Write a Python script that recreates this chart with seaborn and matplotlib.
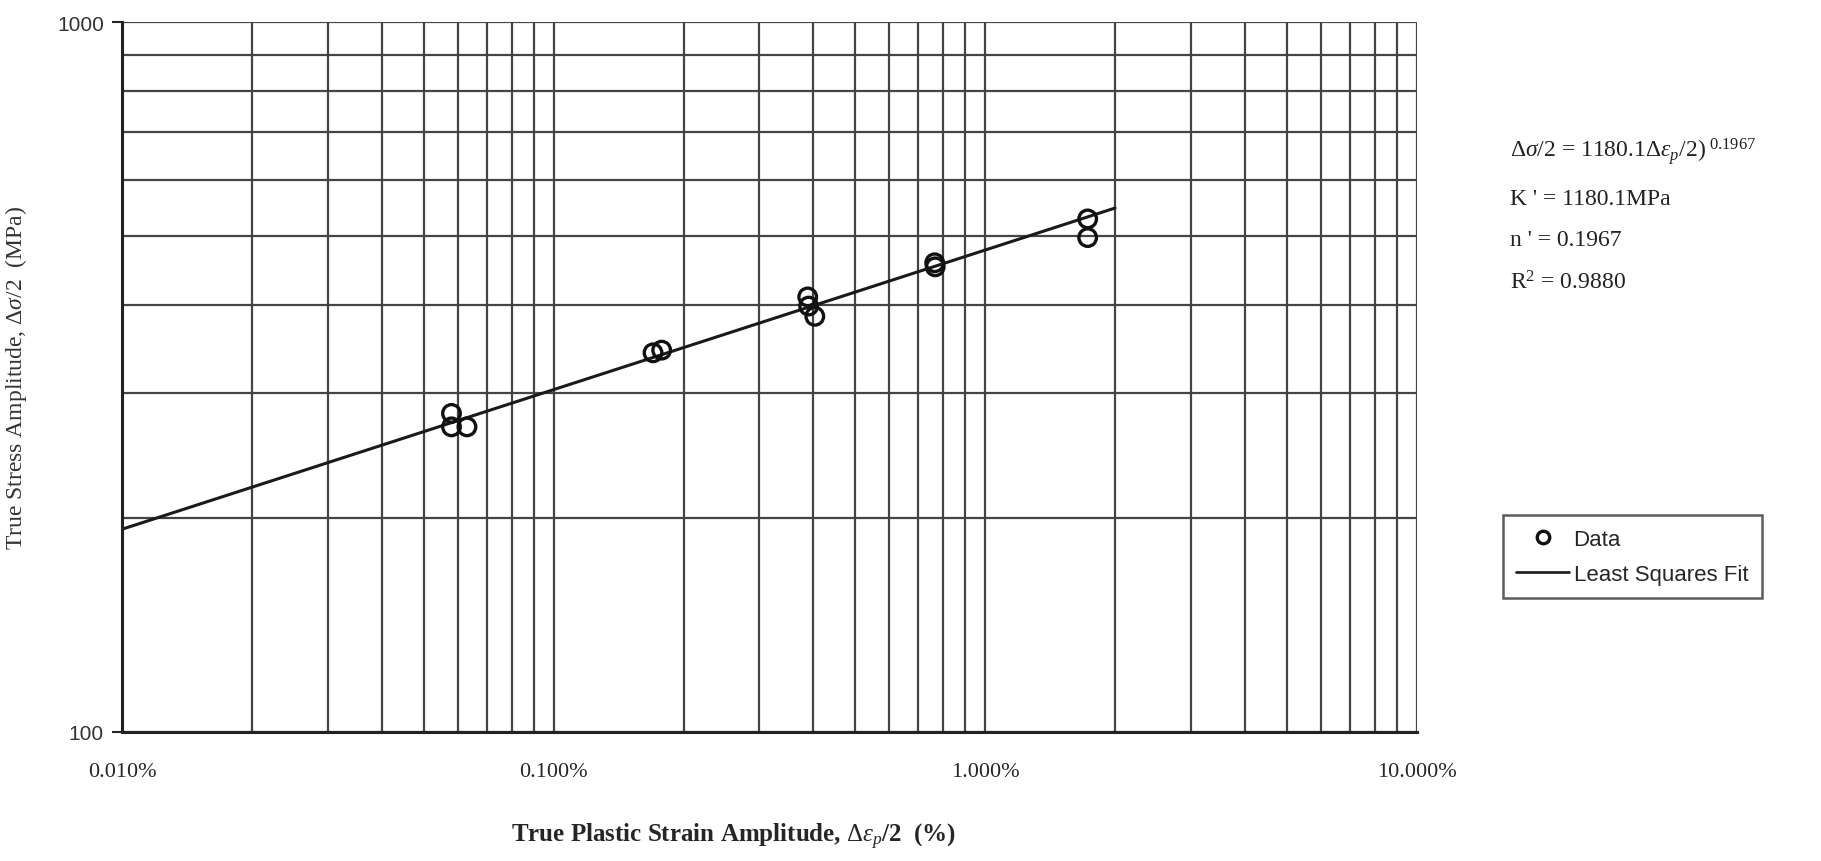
import matplotlib
matplotlib.use("Agg")
import matplotlib.pyplot as plt
from matplotlib.ticker import FixedLocator, FuncFormatter, NullFormatter
from matplotlib.lines import Line2D
import pandas as pd
import seaborn as sns

# data
strain_pct = [0.058, 0.058, 0.063, 0.170, 0.178, 0.388, 0.390, 0.403, 0.764, 0.766, 1.728, 1.728]
stress_mpa = [281, 269, 269, 342, 345, 410, 398, 385, 458, 452, 528, 497]

# least squares fit end points
fit_strain = [0.01, 2.0]
fit_stress = [193, 547]

x_major = [0.01, 0.1, 1, 10]
y_major = [100, 1000]

eq_lines = [
    r"$\Delta\sigma/2$ = 1180.1$\Delta\varepsilon_p$/2)$^{\ 0.1967}$",
    "K ' = 1180.1MPa",
    "n ' = 0.1967",
    r"R$^2$ = 0.9880",
]
eq_y = [0.824, 0.769, 0.721, 0.672]

sns.set_style("white")
plt.rcParams['mathtext.fontset'] = 'custom'
plt.rcParams['mathtext.rm'] = 'Liberation Serif'
plt.rcParams['mathtext.it'] = 'Liberation Serif:italic'

df = pd.DataFrame({"strain": strain_pct, "stress": stress_mpa})
fit = pd.DataFrame({"strain": fit_strain, "stress": fit_stress})

fig = plt.figure(figsize=(18.21, 8.62), dpi=100)
ax = fig.add_axes([0.067, 0.1497, 0.711, 0.8236])

sns.lineplot(data=fit, x="strain", y="stress", ax=ax, color="#1a1a1a", lw=2.2)
sns.scatterplot(data=df, x="strain", y="stress", ax=ax, marker="o", s=160,
                facecolor="none", edgecolor="#111111", linewidth=2.4, zorder=5)

ax.set_xscale("log")
ax.set_yscale("log")
ax.set_xlim(0.01, 10)
ax.set_ylim(100, 1000)

ax.xaxis.set_major_locator(FixedLocator(x_major))
ax.xaxis.set_major_formatter(FuncFormatter(lambda v, p: f"{v:.3f}%"))
ax.xaxis.set_minor_formatter(NullFormatter())
ax.yaxis.set_major_locator(FixedLocator(y_major))
ax.yaxis.set_major_formatter(FuncFormatter(lambda v, p: f"{v:.0f}"))
ax.yaxis.set_minor_formatter(NullFormatter())

ax.grid(True, which="both", color="#444444", lw=1.6)
ax.set_axisbelow(True)
for side in ["top", "right"]:
    ax.spines[side].set_visible(False)
for side in ["left", "bottom"]:
    ax.spines[side].set_color("#222222")
    ax.spines[side].set_linewidth(2.2)

ax.tick_params(axis="y", which="major", left=True, length=7, width=1.5, colors="#222222",
               labelsize=15, pad=6)
ax.tick_params(axis="y", which="minor", left=False)
ax.tick_params(axis="x", which="both", bottom=False, pad=18, labelsize=16)
for lbl in ax.get_xticklabels():
    lbl.set_fontfamily("Liberation Serif")
for lbl in ax.get_yticklabels():
    lbl.set_fontfamily("Liberation Sans")
    lbl.set_color("#333333")

ax.set_xlabel(r"True Plastic Strain Amplitude, $\Delta\varepsilon_p$/2  (%)",
              fontfamily="Liberation Serif", fontsize=18, fontweight="bold")
ax.xaxis.set_label_coords(0.472, -0.125)
ax.set_ylabel(r"True Stress Amplitude, $\Delta\sigma$/2  (MPa)",
              fontfamily="Liberation Serif", fontsize=17, labelpad=20, color="#333333")

for t, yy in zip(eq_lines, eq_y):
    fig.text(0.829, yy, t, fontfamily="Liberation Serif", fontsize=17,
             color="#222222", va="center")

handles = [
    Line2D([], [], marker="o", ls="none", markerfacecolor="none",
           markeredgecolor="#111111", markeredgewidth=2.4, markersize=9),
    Line2D([], [], color="#222222", lw=2),
]
leg = fig.legend(handles, ["Data", "Least Squares Fit"], loc="upper left",
                 bbox_to_anchor=(0.819, 0.414), frameon=True, fancybox=False,
                 prop={"family": "Liberation Sans", "size": 16}, handlelength=2.4,
                 handletextpad=0.2, borderpad=0.6, labelspacing=0.65)
leg.get_frame().set_edgecolor("#333333")
leg.get_frame().set_linewidth(1.8)

fig.savefig("out.png", dpi=100)
